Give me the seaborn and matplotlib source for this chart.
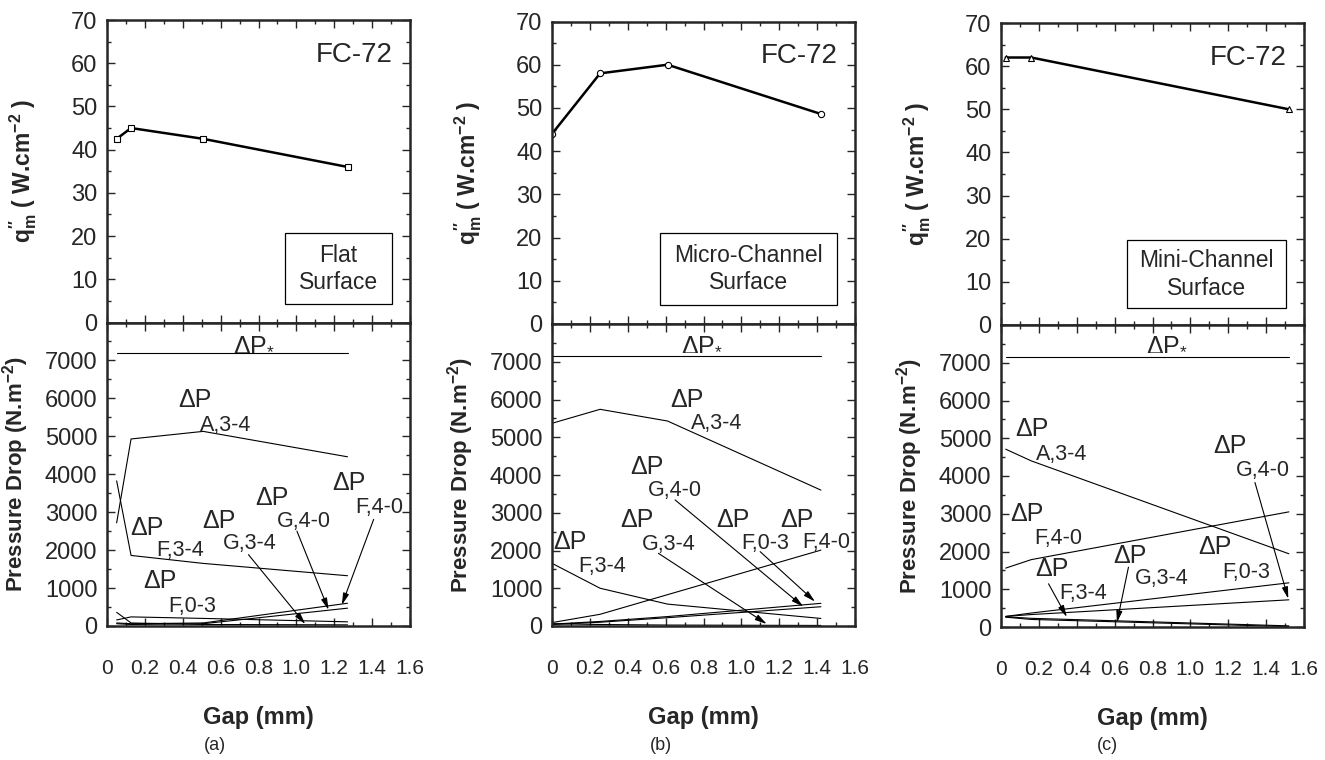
import matplotlib
matplotlib.use("Agg")
import matplotlib.pyplot as plt
from matplotlib.patches import Rectangle
from matplotlib.ticker import MultipleLocator
import pandas as pd
import seaborn as sns

# gap (mm) for each surface
gap_flat = [0.051, 0.127, 0.508, 1.27]
gap_micro = [0.0, 0.254, 0.61, 1.42]
gap_mini = [0.025, 0.16, 1.52]

# maximum heat flux q"m (W/cm2)
qm_flat = [42.5, 45.0, 42.5, 36.0]
qm_micro = [44.0, 58.0, 60.0, 48.6]
qm_mini = [62.0, 62.0, 50.0]

# pressure drop components (N/m2) - flat surface
dp_star_flat = [7200, 7200, 7200, 7200]
dp_A34_flat = [2720, 4930, 5130, 4460]
dp_F34_flat = [3825, 1860, 1650, 1325]
dp_F03_flat = [160, 240, 200, 110]
dp_F40_flat = [80, 60, 80, 600]
dp_G40_flat = [60, 40, 60, 470]
dp_G34_flat = [360, 80, 40, 30]

# micro-channel surface
dp_star_micro = [7150, 7150, 7150, 7150]
dp_A34_micro = [5370, 5740, 5430, 3600]
dp_F34_micro = [1660, 1000, 580, 200]
dp_F40_micro = [90, 310, 830, 2010]
dp_G40_micro = [50, 120, 250, 600]
dp_F03_micro = [40, 100, 220, 510]
dp_G34_micro = [60, 40, 25, 15]

# mini-channel surface
dp_star_mini = [7150, 7150, 7150]
dp_A34_mini = [4710, 4400, 1940]
dp_F40_mini = [1560, 1785, 3050]
dp_F03_mini = [280, 370, 1170]
dp_G40_mini = [280, 330, 720]
dp_F34_mini = [270, 230, 30]
dp_G34_mini = [260, 200, 10]

surfaces = ["Flat\nSurface", "Micro-Channel\nSurface", "Mini-Channel\nSurface"]
panel_tags = ["(a)", "(b)", "(c)"]
x_ticks = [0, 0.2, 0.4, 0.6, 0.8, 1.0, 1.2, 1.4, 1.6]
x_ticklabels = ["0", "0.2", "0.4", "0.6", "0.8", "1.0", "1.2", "1.4", "1.6"]


def long_df(gap, series):
    rows = []
    for name, vals in series.items():
        for g, v in zip(gap, vals):
            rows.append({"series": name, "gap": g, "dp": v})
    return pd.DataFrame(rows)


panels = [
    dict(gap=gap_flat, qm=qm_flat, marker="s", ms=4.5,
         dp=long_df(gap_flat, {"star": dp_star_flat, "A,3-4": dp_A34_flat, "F,3-4": dp_F34_flat,
                               "F,0-3": dp_F03_flat, "F,4-0": dp_F40_flat, "G,4-0": dp_G40_flat,
                               "G,3-4": dp_G34_flat}),
         ax_px=(107, 410, 20, 322.5, 626), box=(0.587, 0.06, 0.353, 0.235), tag_x=215,
         star=(0.774, 7450),
         labels=[("A,3-4", (0.465, 5945), (0.624, 5280)), ("F,4-0", (1.276, 3780), (1.435, 3120)),
                 ("G,4-0", (0.87, 3380), (1.04, 2765)), ("G,3-4", (0.589, 2765), (0.756, 2170)),
                 ("F,3-4", (0.21, 2590), (0.386, 1995)), ("F,0-3", (0.28, 1175), (0.448, 510))],
         arrows=[((0.747, 1880), (1.047, 50)), ((1.003, 2500), (1.17, 425)),
                 ((1.408, 2810), (1.24, 555))]),
    dict(gap=gap_micro, qm=qm_micro, marker="o", ms=4.5,
         dp=long_df(gap_micro, {"star": dp_star_micro, "A,3-4": dp_A34_micro, "F,3-4": dp_F34_micro,
                                "F,4-0": dp_F40_micro, "G,4-0": dp_G40_micro, "F,0-3": dp_F03_micro,
                                "G,3-4": dp_G34_micro}),
         ax_px=(552, 855, 21.5, 324, 626), box=(0.355, 0.063, 0.585, 0.237), tag_x=661,
         star=(0.79, 7500),
         labels=[("A,3-4", (0.712, 5990), (0.87, 5370)), ("G,4-0", (0.5, 4220), (0.65, 3600)),
                 ("G,3-4", (0.448, 2810), (0.615, 2170)), ("F,3-4", (0.097, 2235), (0.264, 1570)),
                 ("F,0-3", (0.958, 2810), (1.125, 2190)), ("F,4-0", (1.292, 2810), (1.45, 2210))],
         arrows=[((0.65, 3340), (1.327, 512)), ((0.562, 1925), (1.134, 53)),
                 ((1.099, 1970), (1.389, 645))]),
    dict(gap=gap_mini, qm=qm_mini, marker="^", ms=4.5,
         dp=long_df(gap_mini, {"star": dp_star_mini, "A,3-4": dp_A34_mini, "F,4-0": dp_F40_mini,
                               "F,0-3": dp_F03_mini, "G,4-0": dp_G40_mini, "F,3-4": dp_F34_mini,
                               "G,3-4": dp_G34_mini}),
         ax_px=(1001, 1304, 23, 325, 627), box=(0.415, 0.055, 0.525, 0.225), tag_x=1107,
         star=(0.875, 7524),
         labels=[("A,3-4", (0.163, 5236), (0.32, 4576)), ("G,4-0", (1.21, 4796), (1.385, 4136)),
                 ("F,4-0", (0.137, 2992), (0.304, 2332)), ("F,0-3", (1.13, 2112), (1.297, 1452)),
                 ("F,3-4", (0.269, 1540), (0.436, 880)), ("G,3-4", (0.682, 1892), (0.85, 1276))],
         arrows=[((1.341, 3828), (1.517, 748)), ((0.251, 1144), (0.348, 264)),
                 ((0.673, 1584), (0.612, 114))]),
]

sns.set_style("ticks")
plt.rcParams["font.family"] = ["Liberation Sans", "DejaVu Sans"]
plt.rcParams["mathtext.fontset"] = "custom"
plt.rcParams["mathtext.rm"] = "Liberation Sans"
plt.rcParams["axes.linewidth"] = 1.8

W, H = 1325, 760
fig = plt.figure(figsize=(W / 100, H / 100), dpi=100)


def rect(l, r, t, b):
    return [l / W, 1 - b / H, (r - l) / W, (b - t) / H]


for i, p in enumerate(panels):
    l, r, t, m, b = p["ax_px"]
    ax1 = fig.add_axes(rect(l, r, t, m))
    ax2 = fig.add_axes(rect(l, r, m, b))

    # upper: maximum heat flux
    sns.lineplot(x=p["gap"], y=p["qm"], ax=ax1, color="black", lw=1.8, marker=p["marker"],
                 markersize=p["ms"], markerfacecolor="white", markeredgecolor="black",
                 markeredgewidth=0.8, estimator=None, sort=False)
    ax1.set_xlim(0, 1.6)
    ax1.set_ylim(0, 70)
    ax1.yaxis.set_major_locator(MultipleLocator(10))
    ax1.yaxis.set_minor_locator(MultipleLocator(5))
    ax1.xaxis.set_major_locator(MultipleLocator(0.2))
    ax1.xaxis.set_minor_locator(MultipleLocator(0.1))
    ax1.tick_params(labelbottom=False)
    ax1.set_ylabel(r"$\mathregular{q^{\prime\prime}_m}$ ( W.cm$\mathregular{^{-2}}$ )",
                   fontsize=16.5, fontweight="bold")
    ax1.yaxis.set_label_coords(-68 / 303, 0.5)
    ax1.text(0.815, 0.885, "FC-72", transform=ax1.transAxes, fontsize=20,
             ha="center", va="center")
    bx, by, bw, bh = p["box"]
    ax1.add_patch(Rectangle((bx, by), bw, bh, transform=ax1.transAxes, fill=False,
                            lw=0.9, ec="black"))
    ax1.text(bx + bw / 2, by + bh / 2, surfaces[i], transform=ax1.transAxes, fontsize=16.5,
             ha="center", va="center", linespacing=1.25)

    # lower: pressure drop components
    sns.lineplot(data=p["dp"], x="gap", y="dp", units="series", estimator=None, ax=ax2,
                 color="black", lw=0.8, sort=False)
    ax2.set_xlim(0, 1.6)
    ax2.set_ylim(0, 8000)
    ax2.set_yticks(range(0, 7001, 1000))
    ax2.yaxis.set_minor_locator(MultipleLocator(500))
    ax2.set_xticks(x_ticks)
    ax2.set_xticklabels(x_ticklabels)
    ax2.xaxis.set_minor_locator(MultipleLocator(0.1))
    ax2.set_xlabel("Gap (mm)", fontsize=17, fontweight="bold", labelpad=20)
    ax2.set_ylabel(r"Pressure Drop (N.m$\mathregular{^{-2}}$)", fontsize=16, fontweight="bold")
    ax2.yaxis.set_label_coords(-76 / 303, 0.5)

    ax2.text(p["star"][0], p["star"][1], r"$\mathregular{ΔP_{*}}$", fontsize=18,
             ha="center", va="center")
    for sub, (x1, y1), (x2, y2) in p["labels"]:
        ax2.text(x1, y1, "ΔP", fontsize=18, ha="center", va="center")
        ax2.text(x2, y2, sub, fontsize=15.5, ha="center", va="center")
    for tail, head in p["arrows"]:
        ax2.annotate("", xy=head, xytext=tail,
                     arrowprops=dict(arrowstyle="-|>,head_length=0.7,head_width=0.18",
                                     color="black", lw=0.8, shrinkA=0, shrinkB=0))

    for ax in (ax1, ax2):
        ax.tick_params(which="both", direction="in", top=True, right=True, width=1.0)
        ax.tick_params(which="major", length=6)
        ax.tick_params(which="minor", length=3)
        ax.tick_params(axis="y", labelsize=17, pad=7)
        for s in ax.spines.values():
            s.set_linewidth(1.8)
    ax2.tick_params(axis="x", labelsize=15, pad=24)
    for lab in ax2.get_xticklabels():
        lab.set_family(["Liberation Sans Narrow", "Liberation Sans"])

    fig.text(p["tag_x"] / W, 1 - 746 / H, panel_tags[i], fontsize=13, ha="center", va="center")

fig.savefig("out.png", dpi=100)
